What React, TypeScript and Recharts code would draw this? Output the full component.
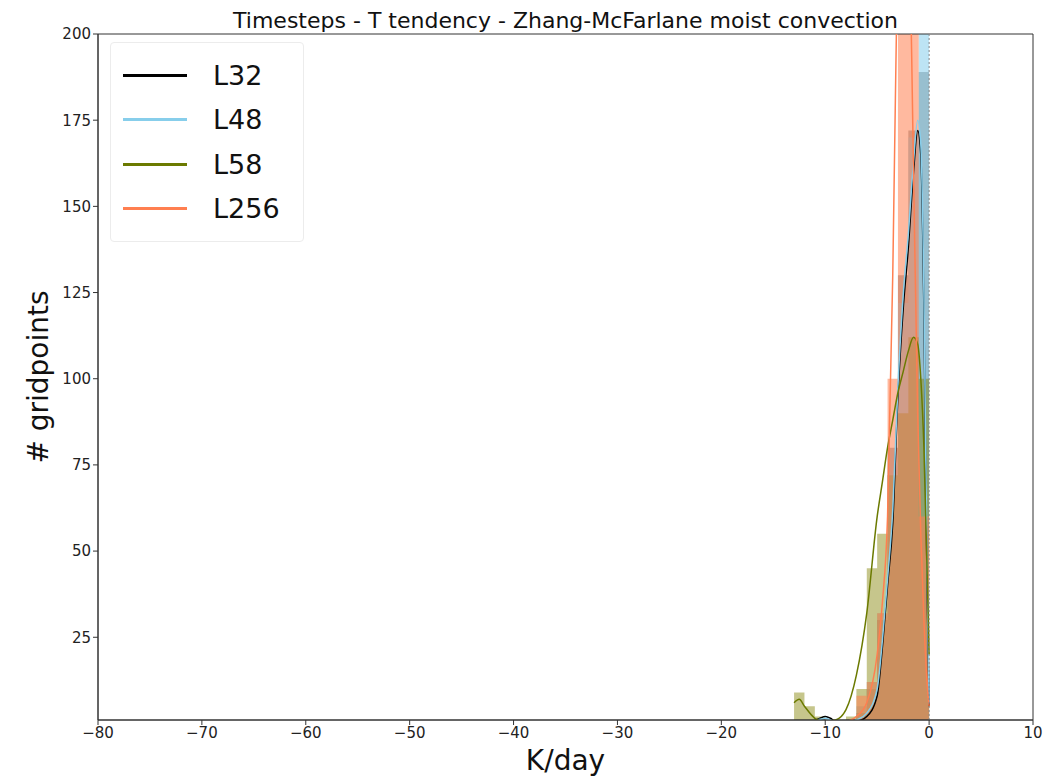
import {
  ComposedChart,
  Area,
  Line,
  XAxis,
  YAxis,
  ReferenceLine,
  ReferenceArea,
} from 'recharts';

const FONT = '"DejaVu Sans", sans-serif';

const xTicks = [-80, -70, -60, -50, -40, -30, -20, -10, 0, 10];
const yTicks = [25, 50, 75, 100, 125, 150, 175, 200];

// histogram bin edges (K/day) and counts per bin (last value closes the step)
const binEdges = [-13, -12, -11, -10, -9, -8, -7, -6, -5, -4, -3, -2, -1, 0];
const histL32 = [0, 0, 1.5, 0.5, 0, 0, 3, 10, 30, 80, 130, 172, 189, 189];
const histL48 = [0, 0, 1, 0.5, 0, 0, 5, 12, 32, 72, 122, 170, 230, 230];
const histL58 = [9, 5, 2, 1, 1, 2, 10, 45, 55, 72, 90, 112, 100, 100];
const histL256 = [0, 0, 0, 0, 0, 1, 8, 12, 32, 100, 260, 260, 60, 60];

// kde curves
const kdeX = [-13, -12.5, -12, -11, -10.5, -10, -9.5, -9, -8, -7, -6, -5, -4.5, -4, -3.5, -3, -2.5, -2, -1.5, -1.1, -0.8, -0.5, -0.2, 0];
const kdeL32 = [0, 0, 0.2, 0.8, 1.5, 2, 1.5, 0.5, 0.2, 0.5, 2, 8, 22, 40, 58, 95, 120, 138, 160, 172, 165, 120, 40, 5];
const kdeL48 = [0, 0, 0.3, 0.8, 1.2, 1.5, 1, 0.5, 0.3, 1, 3, 10, 24, 42, 62, 98, 124, 142, 163, 175, 168, 125, 45, 6];
const kdeL58 = [6, 7, 5, 1.5, 0.8, 0.5, 0.8, 1, 4, 14, 32, 60, 70, 80, 88, 96, 102, 108, 112, 110, 100, 80, 45, 20];
const kdeL256 = [0, 0, 0, 0, 0, 0, 0, 0, 0.5, 2, 6, 20, 35, 60, 130, 230, 290, 250, 160, 90, 55, 30, 12, 5];

const series = [
  { name: 'L32', line: '#000000', fill: '#4a4a4a', hist: histL32, kde: kdeL32, op: 0.45 },
  { name: 'L48', line: '#87ceeb', fill: '#87ceeb', hist: histL48, kde: kdeL48, op: 0.55 },
  { name: 'L58', line: '#6b7a00', fill: '#808000', hist: histL58, kde: kdeL58, op: 0.45 },
  { name: 'L256', line: '#ff7f50', fill: '#ff7f50', hist: histL256, kde: kdeL256, op: 0.55 },
];

const toPoints = (xs: number[], ys: number[]) => xs.map((x, i) => ({ x, y: ys[i] }));

export default function App() {
  return (
    <div style={{ position: 'absolute', left: 0, top: 0, width: 1063, height: 779, background: '#fff', fontFamily: FONT }}>
      <div style={{ position: 'absolute', top: 8, left: 98, width: 935, textAlign: 'center', fontSize: 22, color: '#111' }}>
        Timesteps - T tendency - Zhang-McFarlane moist convection
      </div>
      <div style={{ position: 'absolute', left: 38, top: 377, transform: 'translate(-50%, -50%) rotate(-90deg)', fontSize: 28, whiteSpace: 'nowrap', color: '#111' }}>
        # gridpoints
      </div>
      <div style={{ position: 'absolute', left: 98, top: 744, width: 935, textAlign: 'center', fontSize: 28, color: '#111' }}>
        K/day
      </div>

      <ComposedChart width={1063} height={779} margin={{ top: 34, right: 30, left: 0, bottom: 0 }}>
        <XAxis
          dataKey="x"
          type="number"
          domain={[-80, 10]}
          ticks={xTicks}
          allowDataOverflow
          height={59}
          tick={{ fontSize: 15, fill: '#222', fontFamily: FONT }}
          tickFormatter={(v: number) => String(v).replace('-', '\u2212')}
          stroke="#333"
          tickSize={5}
        />
        <YAxis
          type="number"
          domain={[1, 200]}
          ticks={yTicks}
          allowDataOverflow
          width={98}
          tick={{ fontSize: 15, fill: '#222', fontFamily: FONT }}
          stroke="#333"
          tickSize={5}
        />

        {series.map((s) => (
          <Area
            key={'h' + s.name}
            data={toPoints(binEdges, s.hist)}
            dataKey="y"
            type="stepAfter"
            fill={s.fill}
            fillOpacity={s.op}
            stroke="none"
            isAnimationActive={false}
          />
        ))}
        {series.map((s) => (
          <Line
            key={'k' + s.name}
            data={toPoints(kdeX, s.kde)}
            dataKey="y"
            type="monotone"
            stroke={s.line}
            strokeWidth={1.5}
            dot={false}
            isAnimationActive={false}
          />
        ))}
        <ReferenceLine x={0} stroke="#888" strokeDasharray="2 2" />
        <ReferenceArea x1={-80} x2={10} y1={1} y2={200} fill="none" stroke="#333" strokeWidth={1} />
      </ComposedChart>

      <div style={{ position: 'absolute', left: 110, top: 42, width: 192, height: 198, border: '1px solid #ececec', borderRadius: 4, background: 'rgba(255,255,255,0.8)' }}>
        {series.map((s, i) => (
          <div key={s.name} style={{ position: 'absolute', left: 12, top: 14 + i * 44.5, height: 36, display: 'flex', alignItems: 'center' }}>
            <div style={{ width: 64, height: 3, background: s.line }} />
            <span style={{ marginLeft: 26, fontSize: 27, color: '#111' }}>{s.name}</span>
          </div>
        ))}
      </div>
    </div>
  );
}
